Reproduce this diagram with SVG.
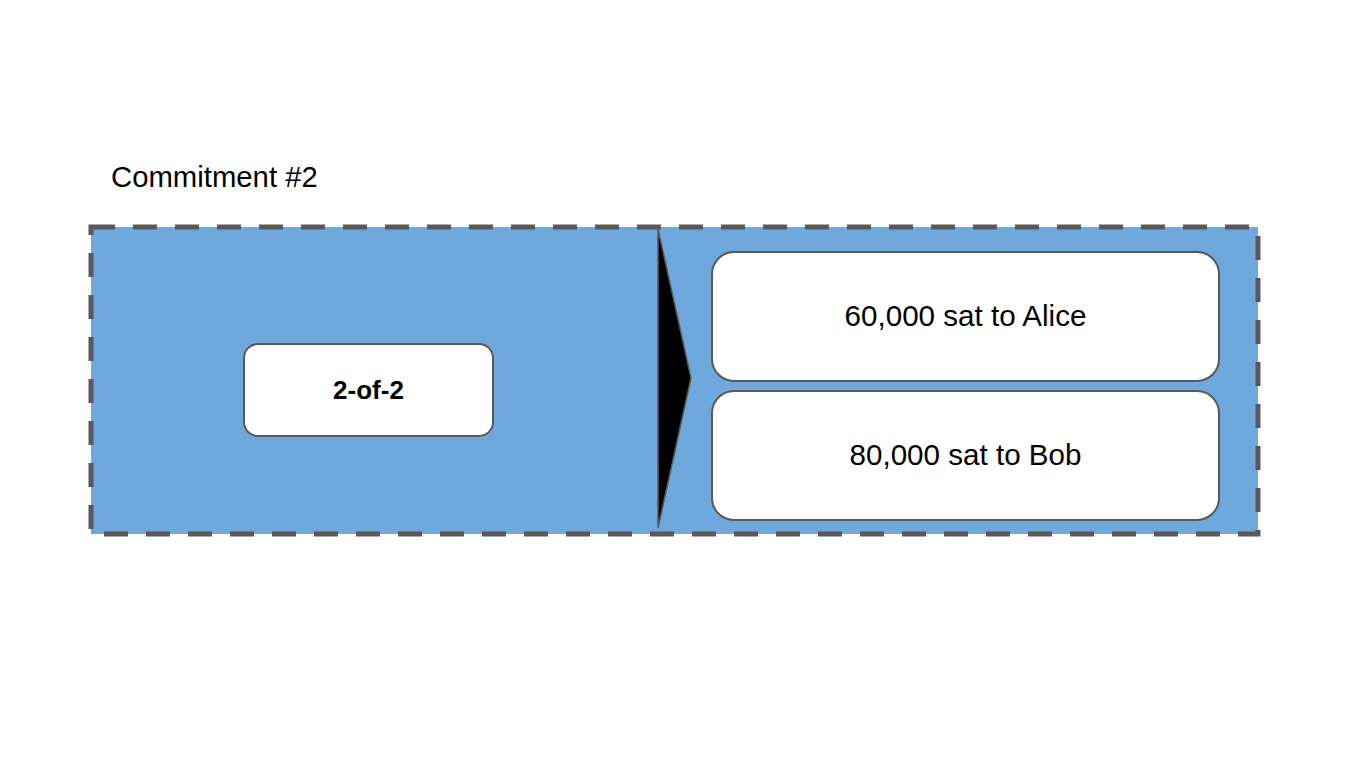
<svg xmlns="http://www.w3.org/2000/svg" width="1345" height="758" viewBox="0 0 1345 758">
<style>
.t{font-family:"Liberation Sans",Arial,sans-serif;fill:#000}
.box{fill:#fff;stroke:#595959;stroke-width:2}
</style>
<rect x="0" y="0" width="1345" height="758" fill="#fff"/>
<g id="commitment">
<text class="t" x="111" y="187" font-size="29.3">Commitment #2</text>
<rect x="91" y="227" width="1167" height="307" fill="#6fa8dc" stroke="#595959" stroke-width="5" stroke-dasharray="24 18"/>
</g>
<g id="multisig">
<rect class="box" x="244" y="344" width="249" height="92" rx="14"/>
<text class="t" x="368.5" y="399" font-size="26" font-weight="bold" text-anchor="middle">2-of-2</text>
</g>
<g id="connectors">
<polygon points="658,229 691,378 658,528" fill="#000" stroke="#595959" stroke-width="1.5"/>
</g>
<g id="alice">
<rect class="box" x="712" y="252" width="507" height="129" rx="22"/>
<text class="t" x="965.5" y="326" font-size="29.6" text-anchor="middle">60,000 sat to Alice</text>
</g>
<g id="bob">
<rect class="box" x="712" y="391" width="507" height="129" rx="22"/>
<text class="t" x="965.5" y="465" font-size="29.6" text-anchor="middle">80,000 sat to Bob</text>
</g>
</svg>
